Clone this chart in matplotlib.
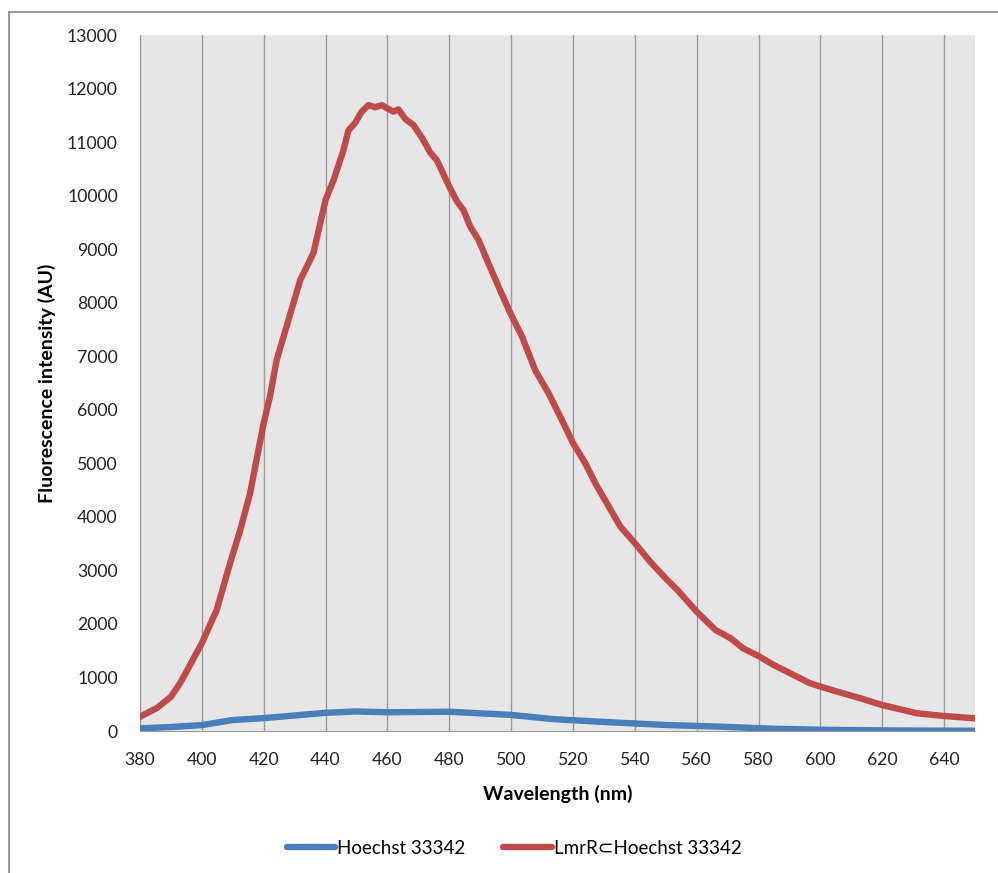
import matplotlib
matplotlib.use("Agg")
import matplotlib.pyplot as plt
from matplotlib.lines import Line2D

plt.rcParams['font.family'] = ['Lato', 'DejaVu Sans']

# Hoechst 33342 (free dye)
wl_free = [380, 390, 400, 410, 420, 432, 440, 450, 460, 470, 480, 490, 500,
           514, 533, 550, 568, 586, 604, 620, 631, 640, 650]
int_free = [50, 75, 110, 205, 240, 300, 340, 365, 350, 355, 360, 330, 300,
            220, 160, 112, 80, 40, 20, 12, 8, 6, 5]

# LmrR⊂Hoechst 33342
wl_bound = [380, 385.5, 390, 393, 400, 404.8, 409.1, 412.4, 415.6, 418.3, 420,
            422, 424.2, 431.8, 436.1, 440, 442.6, 445.8, 447.4, 449.6, 451.7,
            453.9, 456, 458.2, 460, 461.9, 463.6, 465.8, 468.4, 471.2, 473.9,
            476, 480, 482.5, 484.6, 486.8, 489.5, 492.2, 495.4, 499.7, 503.5,
            507.8, 512.1, 515.9, 520, 524, 527.2, 531.6, 535.3, 540, 545,
            550, 554, 560, 566, 571, 575, 580, 585, 591.4, 596.3, 600, 605.5,
            613, 620, 631.3, 640, 650]
int_bound = [267, 430, 640, 895, 1640, 2260, 3130, 3750, 4440, 5250, 5750,
             6240, 6930, 8420, 8930, 9920, 10290, 10850, 11220, 11360, 11570,
             11690, 11650, 11690, 11630, 11570, 11610, 11430, 11320, 11080,
             10800, 10660, 10170, 9890, 9730, 9420, 9170, 8800, 8370, 7810,
             7370, 6740, 6310, 5870, 5380, 5000, 4630, 4190, 3820, 3510, 3160,
             2850, 2620, 2230, 1890, 1730, 1545, 1400, 1230, 1045, 900, 830,
             735, 610, 485, 330, 280, 237]

series_names = ["Hoechst 33342", "LmrR\u2282Hoechst 33342"]
colors = ["#4A7EBB", "#BE4B48"]
x_ticks = list(range(380, 641, 20))
y_ticks = list(range(0, 13001, 1000))

fig = plt.figure(figsize=(9.98, 8.73), dpi=100)
ax = fig.add_axes([140/998, (873-731)/873, (975-140)/998, (731-35)/873])
ax.set_facecolor("#E6E6E6")

LW = 4.6
ax.plot(wl_free, int_free, color=colors[0], lw=LW, solid_capstyle='round',
        solid_joinstyle='round', zorder=3)
ax.plot(wl_bound, int_bound, color=colors[1], lw=LW, solid_capstyle='round',
        solid_joinstyle='round', zorder=3)

ax.set_xlim(380, 650)
ax.set_ylim(0, 13000)
ax.set_xticks(x_ticks)
ax.set_yticks(y_ticks)
ax.tick_params(length=0, labelsize=12.7, colors="#222222")
ax.tick_params(axis='y', pad=16)
ax.tick_params(axis='x', pad=15)
ax.xaxis.grid(True, color="#9A9A9A", lw=1.0)
ax.yaxis.grid(False)
ax.set_axisbelow(True)
for s in ['top', 'right']:
    ax.spines[s].set_visible(False)
ax.spines['left'].set_color("#9A9A9A")
ax.spines['bottom'].set_color("#9A9A9A")

ax.set_xlabel("Wavelength (nm)", fontsize=14, fontweight='bold', labelpad=12)
ax.set_ylabel("Fluorescence intensity (AU)", fontsize=14, fontweight='bold',
              labelpad=8)

handles = [Line2D([], [], color=c, lw=LW, solid_capstyle='round') for c in colors]
fig.legend(handles, series_names, loc='center', bbox_to_anchor=(514/998, 1-848/873),
           ncol=2, frameon=False, fontsize=13.5, handlelength=2.6,
           handletextpad=0.1, columnspacing=2.0)

# outer chart border (left and top edges visible)
fig.add_artist(Line2D([9/998, 1], [1-12/873, 1-12/873], color="#888888", lw=1.2,
                      transform=fig.transFigure))
fig.add_artist(Line2D([9/998, 9/998], [0, 1-12/873], color="#888888", lw=1.2,
                      transform=fig.transFigure))

fig.savefig("out.png", dpi=100, facecolor="white")
